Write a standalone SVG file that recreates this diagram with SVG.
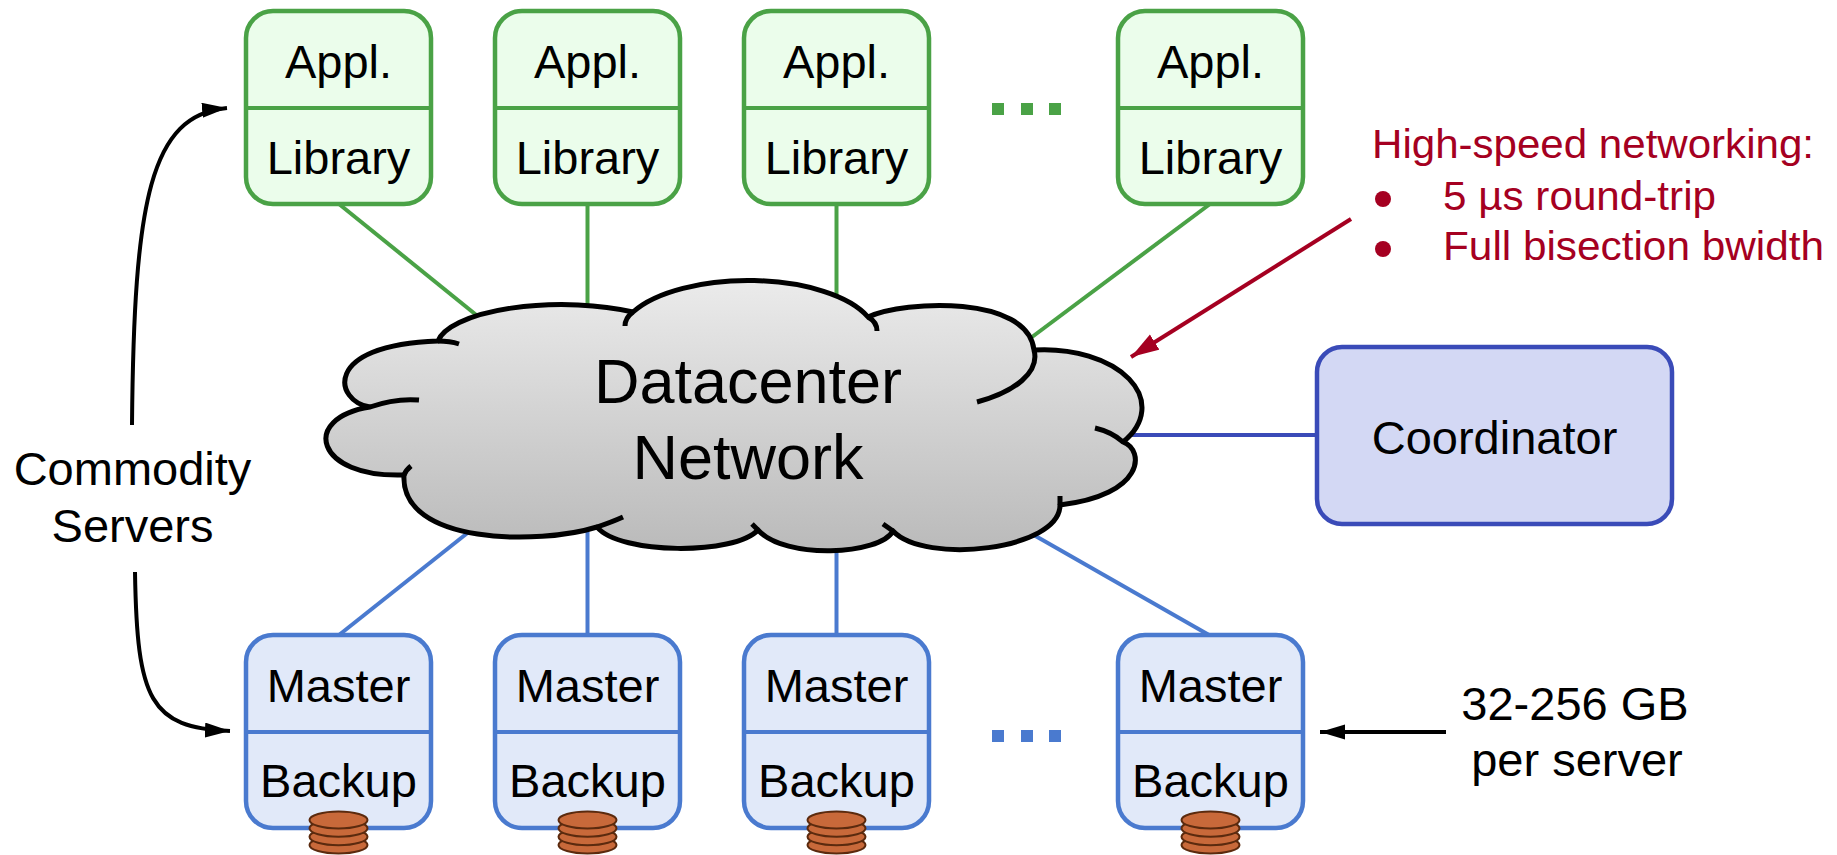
<svg xmlns="http://www.w3.org/2000/svg" width="1837" height="855" viewBox="0 0 1837 855">
<defs>
<style>
.t{font-family:"Liberation Sans",Arial,sans-serif;fill:#000;text-anchor:middle}
.gb{fill:#ebfdeb;stroke:#4aa246;stroke-width:4.5}
.gl{stroke:#4aa246;stroke-width:4;fill:none}
.bb{fill:#e1e9f9;stroke:#4a7acf;stroke-width:4.5}
.bl{stroke:#4a7acf;stroke-width:4;fill:none}
.disk{fill:#c8693a;stroke:#5b2a0e;stroke-width:2}
.red{font-family:"Liberation Sans",Arial,sans-serif;fill:#a50021;font-size:41px}
.stub{fill:none;stroke:#000;stroke-width:5;stroke-linecap:butt}
</style>
<linearGradient id="cg" x1="0" y1="0" x2="0" y2="1">
<stop offset="0" stop-color="#ebebeb"/>
<stop offset="1" stop-color="#bababa"/>
</linearGradient>
<marker id="ah" markerUnits="userSpaceOnUse" markerWidth="26" markerHeight="16" refX="25" refY="7.5" orient="auto">
<path d="M0,0 L25,7.5 L0,15 z" fill="#000"/>
</marker>
<marker id="ahr" markerUnits="userSpaceOnUse" markerWidth="30" markerHeight="20" refX="28" refY="9" orient="auto">
<path d="M0,0 L28,9 L0,18 z" fill="#a50021"/>
</marker>
<g id="diskstack">
<ellipse class="disk" cx="0" cy="845" rx="29" ry="8.5"/>
<ellipse class="disk" cx="0" cy="836.7" rx="29" ry="8.5"/>
<ellipse class="disk" cx="0" cy="828.3" rx="29" ry="8.5"/>
<ellipse class="disk" cx="0" cy="820" rx="29" ry="8.5"/>
</g>
</defs>
<rect width="1837" height="855" fill="#fff"/>

<g id="connectors">
<line class="gl" x1="339" y1="204" x2="480" y2="318"/>
<line class="gl" x1="587.5" y1="204" x2="587.5" y2="310"/>
<line class="gl" x1="836.5" y1="204" x2="836.5" y2="300"/>
<line class="gl" x1="1210" y1="204" x2="1028" y2="340"/>
<line class="bl" x1="339" y1="635" x2="475" y2="527"/>
<line class="bl" x1="587.5" y1="635" x2="587.5" y2="520"/>
<line class="bl" x1="836.5" y1="635" x2="836.5" y2="535"/>
<line class="bl" x1="1209" y1="635" x2="1025" y2="530"/>
<line x1="1120" y1="435" x2="1317" y2="435" stroke="#3a4bb8" stroke-width="4"/>
<path d="M132,425 C134,200 150,115 227,108" fill="none" stroke="#000" stroke-width="4" marker-end="url(#ah)"/>
<path d="M135,572 C137,700 150,728 230,731" fill="none" stroke="#000" stroke-width="4" marker-end="url(#ah)"/>
<line x1="1446" y1="732" x2="1320" y2="732" stroke="#000" stroke-width="4" marker-end="url(#ah)"/>
<line x1="1351" y1="219" x2="1131" y2="357" stroke="#a50021" stroke-width="4" marker-end="url(#ahr)"/>
</g>

<g id="cloud">
<path d="M370,407 C335,402 320,345 438,341 A125,42 0 0 1 633,312 A128,56 0 0 1 868,317 C905,300 1028,295 1034,350 A98,58 0 0 1 1123,442 C1145,450 1145,495 1060,505 C1060,550 925,565 893,531 C880,555 785,560 758,530 C735,555 620,555 597,527 C540,545 400,545 404,475 C315,478 300,418 370,407 Z" fill="url(#cg)" stroke="#000" stroke-width="5" stroke-linejoin="round"/>
<path class="stub" d="M438,341 Q450,341 459,344 M633,312 Q625,318 625,326 M868,317 Q877,322 877,331 M1034,350 C1040,372 1015,392 977,402 M1123,442 Q1112,432 1095,428 M1060,505 L1060,496 M893,531 L883,524 M758,530 L752,524 M597,527 Q612,522 623,517 M404,475 Q406,470 411,466 M370,407 Q395,398 419,400"/>
<text class="t" x="748" y="403" font-size="63">Datacenter</text>
<text class="t" x="748" y="479" font-size="63">Network</text>
</g>

<g id="app1">
<rect class="gb" x="246" y="11" width="185" height="193" rx="27"/>
<line class="gl" x1="246" y1="108" x2="431" y2="108"/>
<text class="t" x="338.5" y="78" font-size="47">Appl.</text>
<text class="t" x="338.5" y="174" font-size="47">Library</text>
</g>
<g id="app2">
<rect class="gb" x="495" y="11" width="185" height="193" rx="27"/>
<line class="gl" x1="495" y1="108" x2="680" y2="108"/>
<text class="t" x="587.5" y="78" font-size="47">Appl.</text>
<text class="t" x="587.5" y="174" font-size="47">Library</text>
</g>
<g id="app3">
<rect class="gb" x="744" y="11" width="185" height="193" rx="27"/>
<line class="gl" x1="744" y1="108" x2="929" y2="108"/>
<text class="t" x="836.5" y="78" font-size="47">Appl.</text>
<text class="t" x="836.5" y="174" font-size="47">Library</text>
</g>
<g id="app4">
<rect class="gb" x="1118" y="11" width="185" height="193" rx="27"/>
<line class="gl" x1="1118" y1="108" x2="1303" y2="108"/>
<text class="t" x="1210.5" y="78" font-size="47">Appl.</text>
<text class="t" x="1210.5" y="174" font-size="47">Library</text>
</g>
<g id="app-ellipsis" fill="#4aa246">
<rect x="992" y="103" width="12" height="12"/>
<rect x="1021" y="103" width="12" height="12"/>
<rect x="1049" y="103" width="12" height="12"/>
</g>

<g id="server1">
<rect class="bb" x="246" y="635" width="185" height="193" rx="27"/>
<line class="bl" x1="246" y1="732" x2="431" y2="732"/>
<text class="t" x="338.5" y="702" font-size="47">Master</text>
<text class="t" x="338.5" y="797" font-size="47">Backup</text>
<use href="#diskstack" x="338.5"/>
</g>
<g id="server2">
<rect class="bb" x="495" y="635" width="185" height="193" rx="27"/>
<line class="bl" x1="495" y1="732" x2="680" y2="732"/>
<text class="t" x="587.5" y="702" font-size="47">Master</text>
<text class="t" x="587.5" y="797" font-size="47">Backup</text>
<use href="#diskstack" x="587.5"/>
</g>
<g id="server3">
<rect class="bb" x="744" y="635" width="185" height="193" rx="27"/>
<line class="bl" x1="744" y1="732" x2="929" y2="732"/>
<text class="t" x="836.5" y="702" font-size="47">Master</text>
<text class="t" x="836.5" y="797" font-size="47">Backup</text>
<use href="#diskstack" x="836.5"/>
</g>
<g id="server4">
<rect class="bb" x="1118" y="635" width="185" height="193" rx="27"/>
<line class="bl" x1="1118" y1="732" x2="1303" y2="732"/>
<text class="t" x="1210.5" y="702" font-size="47">Master</text>
<text class="t" x="1210.5" y="797" font-size="47">Backup</text>
<use href="#diskstack" x="1210.5"/>
</g>
<g id="server-ellipsis" fill="#4a7acf">
<rect x="992" y="730" width="12" height="12"/>
<rect x="1021" y="730" width="12" height="12"/>
<rect x="1049" y="730" width="12" height="12"/>
</g>

<g id="coordinator">
<rect x="1317" y="347" width="355" height="177" rx="25" fill="#d3d8f4" stroke="#3a4bb8" stroke-width="4.5"/>
<text class="t" x="1494.5" y="454" font-size="47">Coordinator</text>
</g>

<g id="servers-label">
<text class="t" x="132.5" y="485" font-size="47">Commodity</text>
<text class="t" x="132.5" y="542" font-size="47">Servers</text>
</g>

<g id="network-note">
<text class="red" x="1372" y="158" textLength="442" lengthAdjust="spacingAndGlyphs">High-speed networking:</text>
<circle cx="1383" cy="199" r="8" fill="#a50021"/>
<circle cx="1383" cy="249" r="8" fill="#a50021"/>
<text class="red" x="1443" y="210" textLength="273" lengthAdjust="spacingAndGlyphs">5 µs round-trip</text>
<text class="red" x="1443" y="260" textLength="381" lengthAdjust="spacingAndGlyphs">Full bisection bwidth</text>
</g>

<g id="memory-note">
<text class="t" x="1575" y="720" font-size="47">32-256 GB</text>
<text class="t" x="1577" y="776" font-size="47">per server</text>
</g>
</svg>
